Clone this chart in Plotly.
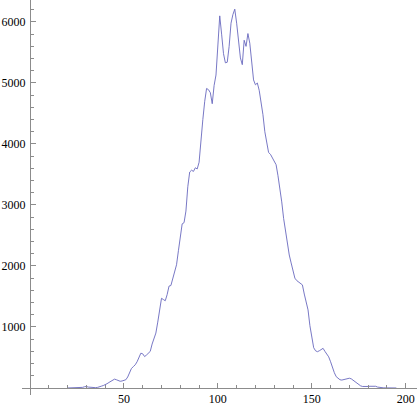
import plotly.graph_objects as go

# histogram counts, one value per bin
bins = list(range(20, 196))
counts = [
    0, 0, 0, 0, 0, 0, 0, 5, 10, 20,
    25, 15, 10, 10, 5, 5, 10, 15, 30, 40,
    50, 70, 90, 110, 130, 145, 135, 120, 110, 115,
    120, 135, 180, 260, 320, 350, 380, 430, 490, 570,
    560, 515, 540, 570, 600, 720, 830, 900, 1080, 1280,
    1470, 1450, 1430, 1530, 1670, 1680, 1800, 1930, 2020, 2250,
    2500, 2690, 2710, 2900, 3300, 3540, 3570, 3550, 3610, 3590,
    3700, 4100, 4400, 4700, 4910, 4890, 4840, 4660, 4960, 5130,
    5600, 6100, 5800, 5480, 5330, 5340, 5600, 5980, 6120, 6210,
    5980, 5650, 5410, 5300, 5700, 5600, 5810, 5650, 5300, 5050,
    4970, 5000, 4880, 4700, 4480, 4200, 4000, 3860, 3830, 3780,
    3720, 3660, 3480, 3300, 3050, 2780, 2560, 2330, 2180, 2050,
    1920, 1800, 1760, 1740, 1710, 1690, 1540, 1420, 1280, 1020,
    820, 660, 610, 595, 610, 635, 650, 600, 550, 510,
    430, 330, 250, 185, 155, 135, 130, 140, 148, 155,
    160, 150, 125, 95, 70, 50, 35, 25, 22, 22,
    25, 28, 30, 30, 28, 15, 8, 5, 3, 2,
    0, 0, 0, 0, 0, 0,
]

x_ticks = [50, 100, 150, 200]
x_minor = [v for v in range(10, 210, 10) if v not in x_ticks]
y_ticks = [1000, 2000, 3000, 4000, 5000, 6000]
y_minor = [v for v in range(200, 6400, 200) if v not in y_ticks]

x_range = [-4.26, 206]
y_range = [-115, 6360]

axis_color = "rgb(140,140,140)"
tick_font = dict(family="Liberation Serif, Times New Roman, serif", size=12, color="black")

fig = go.Figure(
    go.Scatter(
        x=bins,
        y=counts,
        mode="lines",
        line=dict(color="rgb(105,105,190)", width=0.9),
        hoverinfo="skip",
    )
)

fig.update_layout(
    width=417,
    height=406,
    margin=dict(l=22, r=0, t=0, b=11, autoexpand=False),
    paper_bgcolor="white",
    plot_bgcolor="white",
    showlegend=False,
    font=tick_font,
    xaxis=dict(
        range=x_range,
        anchor="free",
        position=(0 - y_range[0]) / (y_range[1] - y_range[0]),
        showgrid=False,
        zeroline=False,
        showline=True,
        linecolor=axis_color,
        linewidth=1,
        tickmode="array",
        tickvals=x_ticks,
        ticks="inside",
        ticklen=5,
        tickcolor=axis_color,
        tickfont=tick_font,
        ticklabelstandoff=0,
        ticklabeloverflow="allow",
        minor=dict(tickmode="array", tickvals=x_minor, ticks="inside",
                   ticklen=3, tickcolor=axis_color, showgrid=False),
        automargin=False,
    ),
    yaxis=dict(
        range=y_range,
        anchor="free",
        position=(0 - x_range[0]) / (x_range[1] - x_range[0]),
        showgrid=False,
        zeroline=False,
        showline=True,
        linecolor=axis_color,
        linewidth=1,
        tickmode="array",
        tickvals=y_ticks,
        ticks="inside",
        ticklen=5,
        tickcolor=axis_color,
        tickfont=tick_font,
        ticklabelstandoff=2,
        minor=dict(tickmode="array", tickvals=y_minor, ticks="inside",
                   ticklen=3, tickcolor=axis_color, showgrid=False),
        automargin=False,
    ),
)

# drop the browser's default 8px body margin so the figure fills the window
fig.write_html(
    "out.html",
    config={"displayModeBar": False},
    post_script="document.body.style.margin='0';"
    "document.documentElement.style.overflow='hidden';",
)
